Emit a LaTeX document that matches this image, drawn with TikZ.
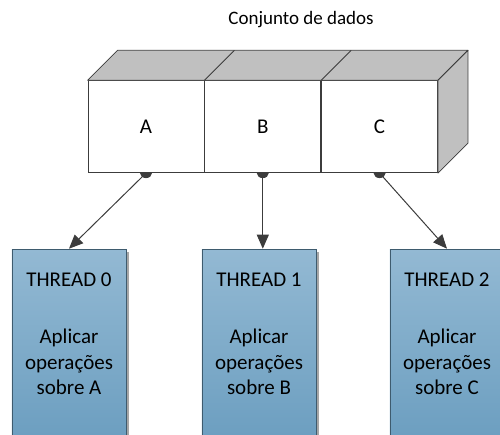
\documentclass[tikz,border=0pt]{standalone}
\usepackage{fontspec}
\setmainfont{Carlito}
\usetikzlibrary{positioning,calc,shadows,arrows.meta}
\definecolor{ink}     {HTML}{3C3C3C}
\definecolor{facegray}{HTML}{C0C0C0}
\definecolor{thrtop}  {HTML}{93B9D3}
\definecolor{thrbot}  {HTML}{6A9DBF}
\definecolor{thrline} {HTML}{3E5B6E}
\definecolor{shade}   {HTML}{A6A6A6}
\tikzset{
  % --- nodes
  cell/.style   = {draw=ink, fill=white, minimum width=58pt, minimum height=46pt,
                   inner sep=0pt, font=\fontsize{10.5}{12.6}\selectfont},
  face/.style   = {draw=ink, fill=facegray, line join=round},
  thr/.style    = {draw=thrline, top color=thrtop, bottom color=thrbot, anchor=north,
                   minimum width=57pt, minimum height=100pt, inner sep=0pt,
                   drop shadow={shadow xshift=1.6pt, shadow yshift=-1.6pt,
                                fill=shade, opacity=1}},
  thrtxt/.style = {align=center, inner sep=0pt, anchor=north,
                   font=\fontsize{10.5}{12.75}\selectfont},
  % --- edges
  e/.style      = {-{Triangle[length=7pt,width=6pt]}, draw=ink, line width=0.5pt},
}
\begin{document}
\begin{tikzpicture}[x=0.5pt,y=0.5pt]
  \useasboundingbox (0,0) rectangle (500,435);
  \clip (0,0) rectangle (500,435);

  \node[font=\fontsize{9.5}{11.4}\selectfont] (title) at (301,415) {Conjunto de dados};

  % the three cells of the data block
  \node[cell] (a) at (146,308.3) {A};
  \node[cell, right=0pt of a] (b) {B};
  \node[cell, right=0pt of b] (c) {C};
  \draw[face] (a.north west) -- ++(30,30) -- ($(c.north east)+(30,30)$) -- (c.north east) -- cycle;
  \draw[face] (c.north east) -- ++(30,30) -- ($(c.south east)+(30,30)$) -- (c.south east) -- cycle;
  \draw[ink] (a.north east) -- ++(30,30);
  \draw[ink] (b.north east) -- ++(30,30);
  \foreach \n in {a,b,c}
    \fill[ink] (\n.south) ++(-3pt,0) arc[start angle=180, end angle=360, x radius=3pt, y radius=2.5pt] -- cycle;

  % one thread per cell
  \node[thr] (t0) at (69,186.3) {};
  \node[thr] (t1) at (259,186.3) {};
  \node[thr] (t2) at (447,186.3) {};
  \node[thrtxt, below=11.9pt of t0.north] (l0) {THREAD 0\\[15.9pt]Aplicar\\operações\\sobre A};
  \node[thrtxt, below=11.9pt of t1.north] (l1) {THREAD 1\\[15.9pt]Aplicar\\operações\\sobre B};
  \node[thrtxt, below=11.9pt of t2.north] (l2) {THREAD 2\\[15.9pt]Aplicar\\operações\\sobre C};

  \draw[e] (a.south) -- (t0.north);
  \draw[e] (b.south) -- (b.south |- t1.north);
  \draw[e] (c.south) -- (t2.north);
\end{tikzpicture}
\end{document}
